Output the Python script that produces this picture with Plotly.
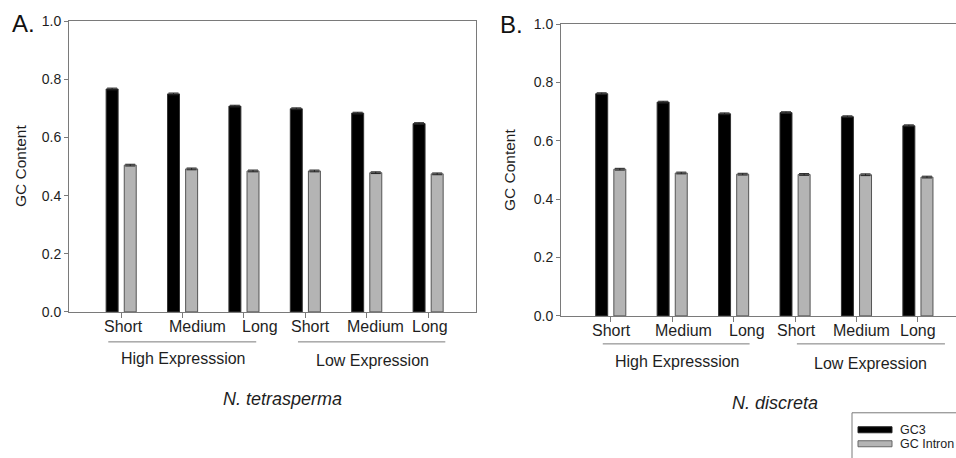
import plotly.graph_objects as go

# ---------------- data ----------------
categories = ["Short", "Medium", "Long", "Short", "Medium", "Long"]
groups = ["High Expresssion", "Low Expression"]
species = ["N. tetrasperma", "N. discreta"]
series_names = ["GC3", "GC Intron"]

gc3_tetrasperma = [0.767, 0.750, 0.708, 0.699, 0.684, 0.648]
intron_tetrasperma = [0.505, 0.492, 0.485, 0.485, 0.479, 0.475]
gc3_discreta = [0.762, 0.733, 0.693, 0.697, 0.683, 0.652]
intron_discreta = [0.503, 0.490, 0.486, 0.485, 0.484, 0.476]
err_gc3 = [0.003, 0.003, 0.003, 0.003, 0.003, 0.003]
err_intron = [0.003, 0.003, 0.003, 0.003, 0.003, 0.003]

yticks = [0.0, 0.2, 0.4, 0.6, 0.8, 1.0]

# ---------------- layout constants ----------------
W, H = 956, 458
FONT = "Liberation Sans, Arial, sans-serif"
AXC = "#7a7a7a"
TXT = "#1e1e1e"
BLACK = "#000000"
GRAY = "#b4b4b4"
BAR_W = 0.195

# vertical compensation for the capture pipeline (observed y = 0.9662*y + 7.73)
VS, VO = 0.9662, 7.73


def py(y_target):
    """target pixel row (from top) -> paper fraction"""
    return 1 - ((y_target - VO) / VS) / H


panels = [
    dict(x=(69, 476), y=(312, 21), xr=(-0.85, 5.78), mirror_y=True,
         label="A.", label_xy=(23, 23),
         lab_shift=[0.04, 0.24, 0.26, 0.08, 0.14, 0.03],
         lines=[(-0.21, 2.2), (2.88, 5.28)], line_y=342,
         glab_x=[1.02, 4.1], glab_y=[359, 361],
         sp_xy=(282, 399), ytitle_xy=(20, 166)),
    dict(x=(561, 956), y=(316, 24), xr=(-0.81, 5.62), mirror_y=False,
         label="B.", label_xy=(512, 24),
         lab_shift=[0.02, 0.18, 0.22, 0.03, 0.08, 0.0],
         lines=[(-0.13, 2.26), (3.03, 5.44)], line_y=344,
         glab_x=[1.08, 4.22], glab_y=[362, 364],
         sp_xy=(775, 403), ytitle_xy=(509, 170)),
]

data_sets = [(gc3_tetrasperma, intron_tetrasperma), (gc3_discreta, intron_discreta)]

fig = go.Figure()
shapes = []
annotations = []
xs = list(range(len(categories)))

for i, (p, (gc3, intr)) in enumerate(zip(panels, data_sets)):
    sfx = "" if i == 0 else "2"
    xa, ya = "x" + sfx, "y" + sfx
    fig.add_trace(go.Bar(
        x=xs, y=gc3, name=series_names[0], xaxis=xa, yaxis=ya,
        width=BAR_W, offset=-BAR_W - 0.05,
        marker=dict(color=BLACK, line=dict(color="#333333", width=1)),
        error_y=dict(type="data", array=err_gc3, visible=True, color="#222222",
                     thickness=1, width=5),
        showlegend=False))
    fig.add_trace(go.Bar(
        x=xs, y=intr, name=series_names[1], xaxis=xa, yaxis=ya,
        width=BAR_W, offset=0.05,
        marker=dict(color=GRAY, line=dict(color="#555555", width=1)),
        error_y=dict(type="data", array=err_intron, visible=True, color="#222222",
                     thickness=1, width=5),
        showlegend=False))

    xd = [p["x"][0] / W, p["x"][1] / W]
    yd = [py(p["y"][0]), min(1.0, py(p["y"][1]))]
    fig.layout["xaxis" + sfx] = dict(
        domain=xd, range=list(p["xr"]), anchor=ya, tickvals=xs, showticklabels=False,
        ticks="outside", ticklen=5, tickcolor=AXC, showline=True, linecolor=AXC,
        linewidth=1, mirror=True, showgrid=False, zeroline=False, fixedrange=True)
    fig.layout["yaxis" + sfx] = dict(
        domain=yd, range=[0, 1.0], anchor=xa, tickvals=yticks, tickformat=".1f",
        ticks="outside", ticklen=4, tickcolor=AXC, showline=True, linecolor=AXC,
        linewidth=1, mirror=p["mirror_y"], showgrid=False, zeroline=False,
        tickfont=dict(family=FONT, size=14, color=TXT), fixedrange=True)

    # category labels
    cat_y = py(p["y"][0] + 15)
    for j, c in enumerate(categories):
        annotations.append(dict(x=j + p["lab_shift"][j], y=cat_y, xref=xa, yref="paper",
                                text=c, showarrow=False, xanchor="center", yanchor="middle",
                                font=dict(family=FONT, size=16, color=TXT)))
    # group underlines
    for (a, b) in p["lines"]:
        shapes.append(dict(type="line", xref=xa, yref="paper", x0=a, x1=b,
                           y0=py(p["line_y"]), y1=py(p["line_y"]),
                           line=dict(color=AXC, width=1)))
    for g, gx, gy in zip(groups, p["glab_x"], p["glab_y"]):
        annotations.append(dict(x=gx, y=py(gy), xref=xa, yref="paper", text=g,
                                showarrow=False, xanchor="center", yanchor="middle",
                                font=dict(family=FONT, size=16, color=TXT)))
    # species
    annotations.append(dict(x=p["sp_xy"][0] / W, y=py(p["sp_xy"][1]), xref="paper",
                            yref="paper", text="<i>" + species[i] + "</i>", showarrow=False,
                            xanchor="center", yanchor="middle",
                            font=dict(family=FONT, size=18, color=TXT)))
    # y title
    annotations.append(dict(x=p["ytitle_xy"][0] / W, y=py(p["ytitle_xy"][1]),
                            xref="paper", yref="paper", text="GC Content", textangle=-90,
                            showarrow=False, xanchor="center", yanchor="middle",
                            font=dict(family=FONT, size=15.5, color=TXT)))
    # panel label
    annotations.append(dict(x=p["label_xy"][0] / W, y=py(p["label_xy"][1]),
                            xref="paper", yref="paper", text=p["label"], showarrow=False,
                            xanchor="center", yanchor="middle",
                            font=dict(family=FONT, size=24, color="#111111")))

# legend box (manual)
shapes.append(dict(type="rect", xref="paper", yref="paper", x0=852 / W, x1=1.01,
                   y0=-0.05, y1=py(413), line=dict(color=AXC, width=1),
                   fillcolor="white"))
shapes.append(dict(type="rect", xref="paper", yref="paper", x0=858 / W, x1=892 / W,
                   y0=py(433), y1=py(427), line=dict(color="#222", width=1),
                   fillcolor=BLACK))
shapes.append(dict(type="rect", xref="paper", yref="paper", x0=858 / W, x1=892 / W,
                   y0=py(447), y1=py(441), line=dict(color="#666", width=1),
                   fillcolor=GRAY))
for name, ly in zip(series_names, [430, 444]):
    annotations.append(dict(x=898 / W, y=py(ly), xref="paper", yref="paper",
                            text=name, showarrow=False, xanchor="left", yanchor="middle",
                            font=dict(family=FONT, size=12.5, color=TXT)))

fig.update_layout(
    width=W, height=H, margin=dict(l=0, r=0, t=0, b=0, pad=0),
    paper_bgcolor="white", plot_bgcolor="white",
    shapes=shapes, annotations=annotations, barmode="overlay",
    font=dict(family=FONT),
)

fig.write_html("out.html", include_plotlyjs=True, config={"displayModeBar": False})
